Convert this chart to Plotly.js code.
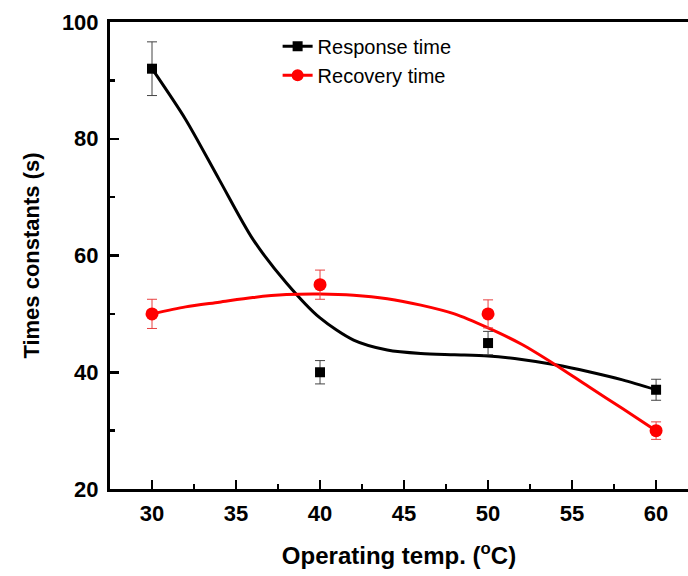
<!DOCTYPE html>
<html>
<head>
<meta charset="utf-8">
<script src="https://cdn.plot.ly/plotly-3.0.1.min.js"></script>
<style>html,body{margin:0;padding:0;background:#fff;}#chart{width:688px;height:576px;}</style>
</head>
<body>
<div id="chart"></div>
<script>
// Measured data points
var temps = [30, 40, 50, 60];
var responseTime = [92, 40, 45, 37];
var responseErr = [4.6, 2, 2, 1.8];
var recoveryTime = [50, 55, 50, 30];
var recoveryErr = [2.5, 2.5, 2.4, 1.5];

// Fitted curves
var fitX = [30, 32, 34, 36, 38, 40, 42, 44, 46, 48, 50, 52, 54, 56, 58, 60];
var responseFit = [92, 83.3, 73.0, 62.8, 55.3, 49.3, 45.5, 43.8, 43.2, 43.0, 42.8, 42.2, 41.3, 40.1, 38.7, 37.0];
var recoveryFit = [50, 51.2, 52.0, 52.8, 53.3, 53.4, 53.2, 52.6, 51.5, 50.0, 47.6, 44.8, 41.3, 37.5, 33.8, 30.0];

var seriesNames = ['Response time', 'Recovery time'];
var black = '#000000', red = '#ff0000';

var traces = [
  {x: fitX, y: responseFit, mode: 'lines', line: {color: black, width: 3, shape: 'spline', smoothing: 0.8}, showlegend: false, hoverinfo: 'skip'},
  {x: fitX, y: recoveryFit, mode: 'lines', line: {color: red, width: 3, shape: 'spline', smoothing: 0.8}, showlegend: false, hoverinfo: 'skip'},
  {x: temps, y: responseTime, mode: 'markers', marker: {symbol: 'square', size: 10, color: black},
   error_y: {type: 'data', array: responseErr, visible: true, color: '#444', thickness: 1, width: 5}, showlegend: false},
  {x: temps, y: recoveryTime, mode: 'markers', marker: {symbol: 'circle', size: 13, color: red},
   error_y: {type: 'data', array: recoveryErr, visible: true, color: '#e84040', thickness: 1, width: 5}, showlegend: false},
  {x: [null], y: [null], mode: 'lines+markers', name: seriesNames[0], line: {color: black, width: 3}, marker: {symbol: 'square', size: 10, color: black}},
  {x: [null], y: [null], mode: 'lines+markers', name: seriesNames[1], line: {color: red, width: 3}, marker: {symbol: 'circle', size: 12, color: red}}
];

var fam = 'Liberation Sans, Arial, sans-serif';
var layout = {
  width: 688, height: 576,
  margin: {l: 110, r: 0, t: 22, b: 87},
  paper_bgcolor: '#fff', plot_bgcolor: '#fff',
  font: {family: fam, color: '#000'},
  xaxis: {
    range: [27.5, 61.9], tickvals: [30, 35, 40, 45, 50, 55, 60],
    ticks: 'inside', ticklen: 9, tickwidth: 2.5, tickcolor: '#000',
    minor: {ticks: 'inside', ticklen: 5, tickwidth: 2.5, tickcolor: '#000', dtick: 2.5, tick0: 30, showgrid: false},
    showline: true, linewidth: 3, linecolor: '#000', mirror: true,
    showgrid: false, zeroline: false,
    tickfont: {family: fam, size: 22, color: '#000', weight: 'bold'},
    ticklabelstandoff: 3,
    title: {text: 'Operating temp. (<sup>o</sup>C)', font: {family: fam, size: 24, color: '#000', weight: 'bold'}, standoff: 22},
    automargin: false
  },
  yaxis: {
    range: [20, 100], tickvals: [20, 40, 60, 80, 100],
    ticks: 'inside', ticklen: 9, tickwidth: 2.5, tickcolor: '#000',
    minor: {ticks: 'inside', ticklen: 5, tickwidth: 2.5, tickcolor: '#000', dtick: 10, tick0: 20, showgrid: false},
    showline: true, linewidth: 3, linecolor: '#000', mirror: false,
    showgrid: false, zeroline: false,
    tickfont: {family: fam, size: 22, color: '#000', weight: 'bold'},
    ticklabelstandoff: 4,
    title: {text: 'Times constants (s)', font: {family: fam, size: 22, color: '#000', weight: 'bold'}, standoff: 17},
    automargin: false
  },
  legend: {x: 0.29, y: 0.99, xanchor: 'left', yanchor: 'top', bgcolor: 'rgba(0,0,0,0)',
           font: {family: fam, size: 20, color: '#000'}, tracegroupgap: 0},
  showlegend: true
};

Plotly.newPlot('chart', traces, layout, {displayModeBar: false, staticPlot: true});
</script>
</body>
</html>
